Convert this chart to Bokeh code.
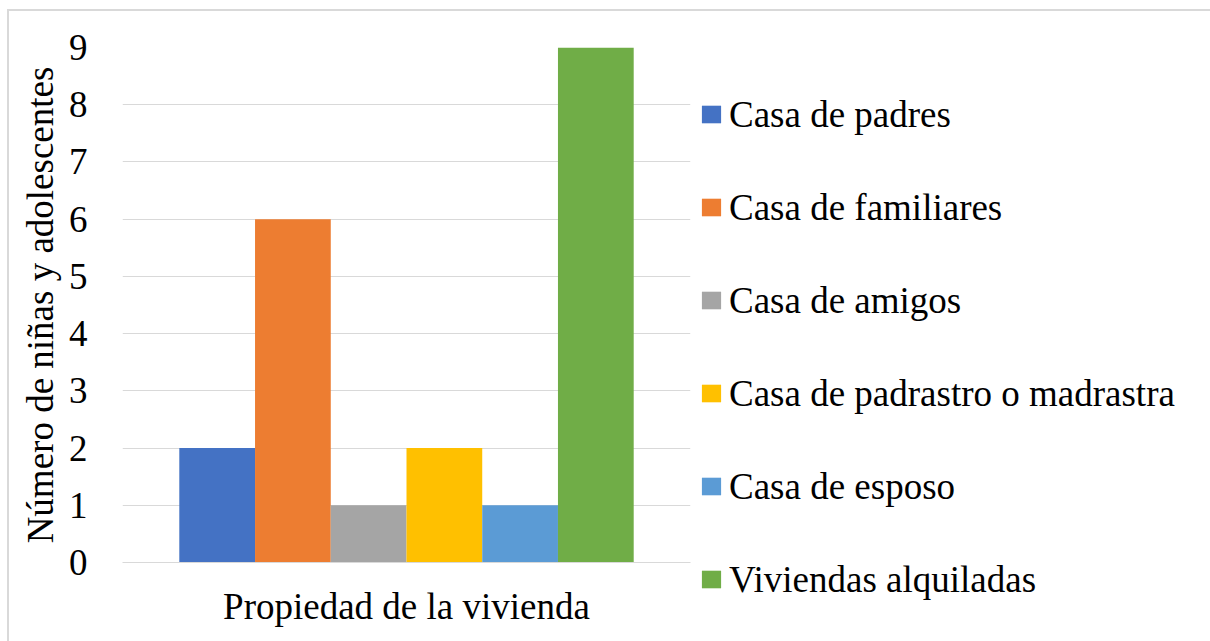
from bokeh.plotting import figure
from bokeh.models import ColumnDataSource, Legend, LegendItem, Range1d, SingleIntervalTicker
from bokeh.transform import dodge
from bokeh.embed import file_html
from bokeh.resources import INLINE

# ---- data ----
category = ["Propiedad de la vivienda"]
series = ["Casa de padres", "Casa de familiares", "Casa de amigos",
          "Casa de padrastro o madrastra", "Casa de esposo", "Viviendas alquiladas"]
values = [2, 6, 1, 2, 1, 9]
colors = ["#4472C4", "#ED7D31", "#A5A5A5", "#FFC000", "#5B9BD5", "#70AD47"]
y_title = "Número de niñas y adolescentes"

FONT = "Liberation Serif"
FS = "37px"

p = figure(x_range=category, y_range=Range1d(0, 9),
           frame_width=568, frame_height=515,
           min_border_left=113, min_border_right=0,
           min_border_top=36, min_border_bottom=79,
           output_backend="svg", toolbar_location=None)
p.styles = {"border-top": "2px solid #d9d9d9", "border-left": "2px solid #d9d9d9",
            "margin-left": "7px", "margin-top": "9px"}

n = len(series)
group = 0.8
w = group / n
items = []
for i, (name, val, col) in enumerate(zip(series, values, colors)):
    off = -group / 2 + w * (i + 0.5)
    src = ColumnDataSource(dict(cat=category, val=[val]))
    r = p.vbar(x=dodge("cat", off, range=p.x_range), top="val", width=w,
               source=src, fill_color=col, line_color=None)
    items.append(LegendItem(label=name, renderers=[r]))

legend = Legend(items=items, location=(9, -42),
                glyph_width=24, glyph_height=22, label_height=50,
                label_standoff=6, spacing=43, padding=0, margin=0,
                border_line_color=None, background_fill_alpha=0,
                label_text_font=FONT, label_text_font_size=FS,
                label_text_color="black")
p.add_layout(legend, "right")

p.outline_line_color = None
p.xgrid.grid_line_color = None
p.ygrid.grid_line_color = "#d9d9d9"
p.ygrid.grid_line_width = 1

p.yaxis.ticker = SingleIntervalTicker(interval=1)
p.yaxis.axis_line_color = None
p.yaxis.major_tick_line_color = None
p.yaxis.minor_tick_line_color = None
p.yaxis.major_tick_out = 0
p.yaxis.major_tick_in = 0
p.yaxis.major_label_standoff = 31
p.yaxis.major_label_text_font = FONT
p.yaxis.major_label_text_font_size = FS
p.yaxis.major_label_text_color = "black"
p.yaxis.axis_label = y_title
p.yaxis.axis_label_text_font = FONT
p.yaxis.axis_label_text_font_size = FS
p.yaxis.axis_label_text_font_style = "normal"
p.yaxis.axis_label_text_color = "black"
p.yaxis.axis_label_standoff = 5

p.xaxis.axis_line_color = "#d9d9d9"
p.xaxis.major_tick_line_color = None
p.xaxis.minor_tick_line_color = None
p.xaxis.major_tick_out = 0
p.xaxis.major_tick_in = 0
p.xaxis.major_label_standoff = 23
p.xaxis.major_label_text_font = FONT
p.xaxis.major_label_text_font_size = FS
p.xaxis.major_label_text_color = "black"

open("out.html", "w").write(file_html(p, INLINE))
